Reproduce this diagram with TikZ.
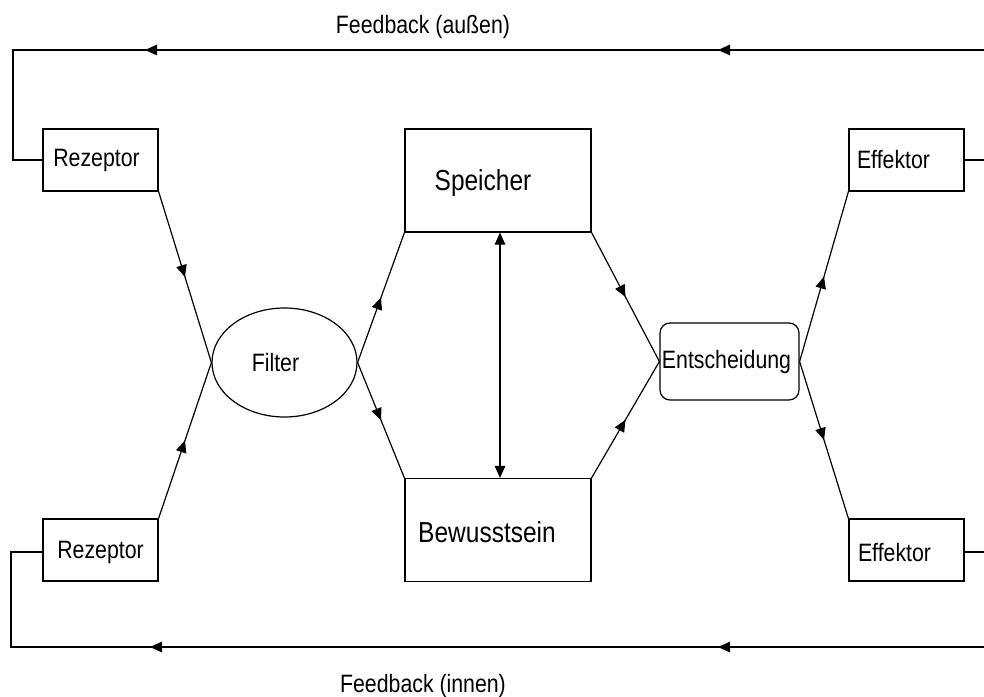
\documentclass[tikz,border=0pt]{standalone}
\usepackage{fontspec}
\setmainfont{Liberation Sans}
\usetikzlibrary{arrows.meta,decorations.markings,shapes.geometric}
% labels are set a little taller than the plain font
\newcommand{\vstretch}[1]{\scalebox{1}[1.18]{#1}}

\begin{document}
\begin{tikzpicture}[x=1pt,y=-1pt,
  line width=1.2pt,
  Tri/.tip={Triangle[length=12pt,width=10.5pt]},
  box/.style={draw, minimum width=115pt, minimum height=62pt, inner sep=0pt},
  bigbox/.style={draw, minimum width=186pt, minimum height=103pt, inner sep=0pt},
  lbl/.style={font=\fontsize{21.3}{24}\selectfont},
  biglbl/.style={font=\fontsize{24.5}{28}\selectfont},
  midarrow/.style={postaction={decorate},
    decoration={markings, mark=at position 0.5 with {\arrow{Tri}}}},
]
% page
\fill[white] (0,0) rectangle (984,696);
\useasboundingbox (0,0) rectangle (984,696);

% receptors and effectors
\node[box, label={[lbl,xshift=-4pt]center:\vstretch{Rezeptor}}] (rz1) at (100.5,160) {};
\node[box, label={[lbl,yshift=-2pt]center:\vstretch{Rezeptor}}] (rz2) at (100.5,550) {};
\node[box, label={[lbl,xshift=-13pt]center:\vstretch{Effektor}}] (ef1) at (906.5,160) {};
\node[box, label={[lbl,xshift=-12pt,yshift=-3pt]center:\vstretch{Effektor}}] (ef2) at (906.5,550) {};

% central stages
\node[draw, ellipse, minimum width=145pt, minimum height=109pt, inner sep=0pt,
      label={[lbl,xshift=-9pt]center:\vstretch{Filter}}] (fil) at (284.5,362.5) {};
\node[bigbox, label={[biglbl,xshift=-15pt,yshift=-2.5pt]center:\vstretch{Speicher}}] (spe) at (498,180.5) {};
\node[bigbox, label={[biglbl,xshift=-11pt,yshift=-2pt]center:\vstretch{Bewusstsein}}] (bew) at (498,530) {};
\node[draw, rounded corners=10pt, minimum width=139pt, minimum height=77pt, inner sep=0pt,
      label={[lbl,xshift=-3pt]center:\vstretch{Entscheidung}}] (ent) at (729.5,361.5) {};

% flow
\draw[midarrow] (rz1.south east) -- (fil.west);
\draw[midarrow] (rz2.north east) -- (fil.west);
\draw[midarrow] (fil.east) -- (spe.south west);
\draw[midarrow] (fil.east) -- (bew.north west);
\draw[midarrow] (spe.south east) -- (ent.west);
\draw[midarrow] (bew.north east) -- (ent.west);
\draw[midarrow] (ent.east) -- (ef1.south west);
\draw[midarrow] (ent.east) -- (ef2.north west);
\draw[Tri-Tri] ([xshift=2pt]spe.south) -- ([xshift=2pt]bew.north);

% feedback loops
\coordinate (fbo) at (984,50);
\coordinate (fbi) at (984,647);
\coordinate (e1o) at (984,160);
\coordinate (e2o) at (984,552);
\draw (ef1.east) -- (e1o);
\draw (ef2.east |- e2o) -- (e2o);
\draw[postaction={decorate}, decoration={markings,
      mark=at position 266pt with {\arrow{Tri}},
      mark=at position 839pt with {\arrow{Tri}}}]
  (fbo) -- (13,50) |- (rz1.west);
\draw[postaction={decorate}, decoration={markings,
      mark=at position 266pt with {\arrow{Tri}},
      mark=at position 834pt with {\arrow{Tri}}}]
  (fbi) -- (11,647) |- ([yshift=-2pt]rz2.west);

\node[lbl] (fbtop) at (423,27) {\vstretch{Feedback (außen)}};
\node[lbl] (fbbot) at (423,686) {\vstretch{Feedback (innen)}};
\end{tikzpicture}
\end{document}
